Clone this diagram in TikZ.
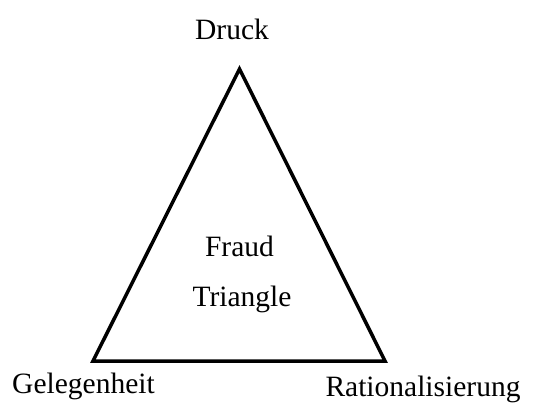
\documentclass[tikz,border=0pt]{standalone}
\usepackage{fontspec}
\setmainfont{Liberation Serif}
\usetikzlibrary{positioning}
\tikzset{corner/.style={anchor=base,font=\fontsize{29.5}{34}\selectfont}}

\begin{document}
\begin{tikzpicture}[x=1pt,y=-1pt]
      \useasboundingbox (0,0) rectangle (534,410);
      \coordinate (top) at (239.5,69);
      \coordinate (left) at (93,361);
      \coordinate (right) at (385,361);
      \draw[line width=3.5pt,line join=miter] (top) -- (left) -- (right) -- cycle;
      \node[corner] (druck) at (232,39) {Druck};
      \node[corner] (fraud) at (239.5,256) {Fraud};
      \node[corner] (triangle) at (242,306) {Triangle};
      \node[corner] (gelegenheit) at (83.5,393) {Gelegenheit};
      \node[corner] (rational) at (423,396) {Rationalisierung};
    \end{tikzpicture}
\end{document}
